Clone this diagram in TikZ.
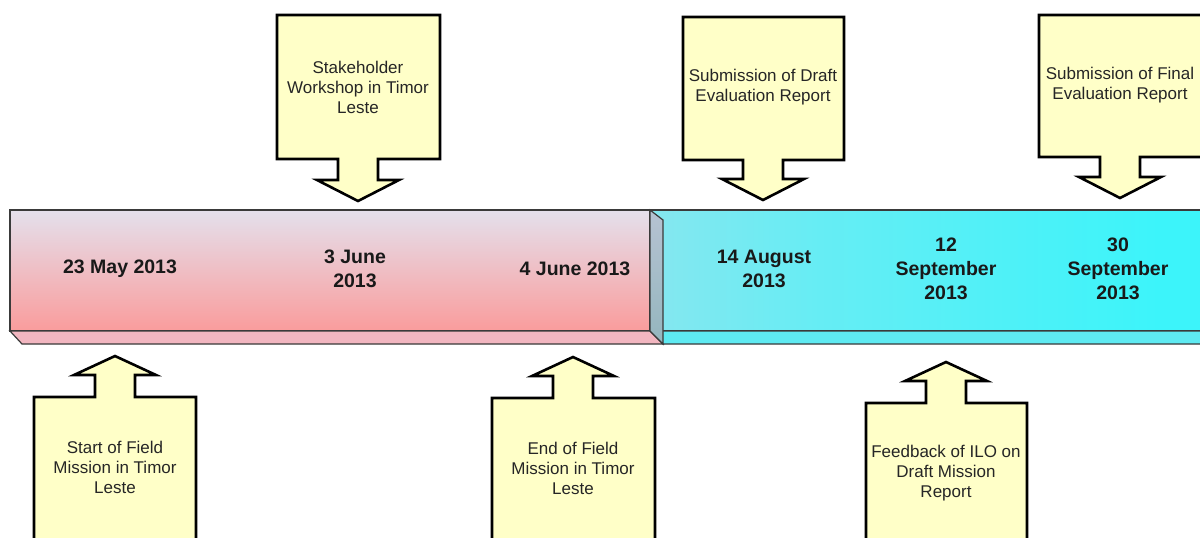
\documentclass[tikz,border=0pt]{standalone}
\usepackage{fontspec}
\setmainfont{Liberation Sans}
\definecolor{callfill}{HTML}{FFFFC8}
\definecolor{barline}{HTML}{3A3A3A}
\definecolor{pinktop}{HTML}{E4E0EC}
\definecolor{pinkbot}{HTML}{FA9C9C}
\definecolor{pinkstrip}{HTML}{F2B6C0}
\definecolor{sidetop}{HTML}{B6C2D2}
\definecolor{sidebot}{HTML}{94B6BE}
\definecolor{cyanA}{HTML}{BADCE8}
\definecolor{cyanB}{HTML}{66EDF4}
\definecolor{cyanC}{HTML}{3CF4FA}
\definecolor{cyanstrip}{HTML}{5EEAF2}
\pgfdeclarehorizontalshading{cyanshade}{100bp}{color(0bp)=(cyanA); color(40bp)=(cyanB); color(70bp)=(cyanC); color(100bp)=(cyanC)}
\tikzset{
  callout/.style={draw=black, line width=1.3pt, fill=callfill, line join=miter},
  bartext/.style={font=\fontsize{9.75}{12}\selectfont\bfseries, align=center, text=black!90},
  calltext/.style={font=\fontsize{8.5}{10}\selectfont, align=center, text=black!85},
  baredge/.style={draw=barline, line width=0.6pt}
}
\newcommand{\calloutdown}[6]{%
  \draw[callout] (#1,#3) -- (#2,#3) -- (#2,#4) -- ({#5+20},#4) -- ({#5+20},{#6-21}) -- ({#5+41},{#6-21}) -- (#5,#6) -- ({#5-41},{#6-21}) -- ({#5-20},{#6-21}) -- ({#5-20},#4) -- (#1,#4) -- cycle;}
\newcommand{\calloutup}[6]{%
  \draw[callout] (#1,#4) -- (#1,#3) -- ({#5-20},#3) -- ({#5-20},{#6+19}) -- ({#5-41},{#6+19}) -- (#5,#6) -- ({#5+41},{#6+19}) -- ({#5+20},{#6+19}) -- ({#5+20},#3) -- (#2,#3) -- (#2,#4) -- cycle;}
\begin{document}
\begin{tikzpicture}[x=0.5pt,y=-0.5pt]
\useasboundingbox (0,0) rectangle (1200,537);
\clip (0,0) rectangle (1200,537);
\fill[white] (0,0) rectangle (1200,537);
% cyan bar
\draw[baredge, shading=cyanshade] (650,210) rectangle (1215,331);
\draw[baredge, fill=cyanstrip] (650,331) -- (1215,331) -- (1215,344) -- (663,344) -- cycle;
% pink bar
\draw[baredge, top color=pinktop, bottom color=pinkbot] (10,210) rectangle (650,331);
\draw[baredge, fill=pinkstrip] (10,331) -- (650,331) -- (663,344) -- (22,344) -- cycle;
\draw[baredge, top color=sidetop, bottom color=sidebot] (650,210) -- (663,220) -- (663,344) -- (650,331) -- cycle;
% bar texts
\node[bartext] (d1) at (120,269) {23 May 2013};
\node[bartext] (d2) at (355,269) {3 June\\2013};
\node[bartext] (d3) at (575,269) {4 June 2013};
\node[bartext] (d4) at (764,269) {14 August\\2013};
\node[bartext] (d5) at (946,269) {12\\September\\2013};
\node[bartext] (d6) at (1118,269) {30\\September\\2013};
% callouts from top
\calloutdown{277}{440}{15}{159}{358}{201}
\calloutdown{683}{844}{17}{160}{763}{200}
\calloutdown{1039}{1215}{15}{157}{1120}{198}
% callouts from bottom
\calloutup{34}{196}{397}{560}{115}{356}
\calloutup{492}{655}{398}{560}{573}{357}
\calloutup{866}{1027}{403}{560}{946}{362}
% callout texts
\node[calltext] (c1) at (358,87) {Stakeholder\\Workshop in Timor\\Leste};
\node[calltext] (c2) at (763,87) {Submission of Draft\\Evaluation Report};
\node[calltext] (c3) at (1120,85) {Submission of Final\\Evaluation Report};
\node[calltext] (c4) at (115,467) {Start of Field\\Mission in Timor\\Leste};
\node[calltext] (c5) at (573,468) {End of Field\\Mission in Timor\\Leste};
\node[calltext] (c6) at (946,473) {Feedback of ILO on\\Draft Mission\\Report};
\end{tikzpicture}
\end{document}
